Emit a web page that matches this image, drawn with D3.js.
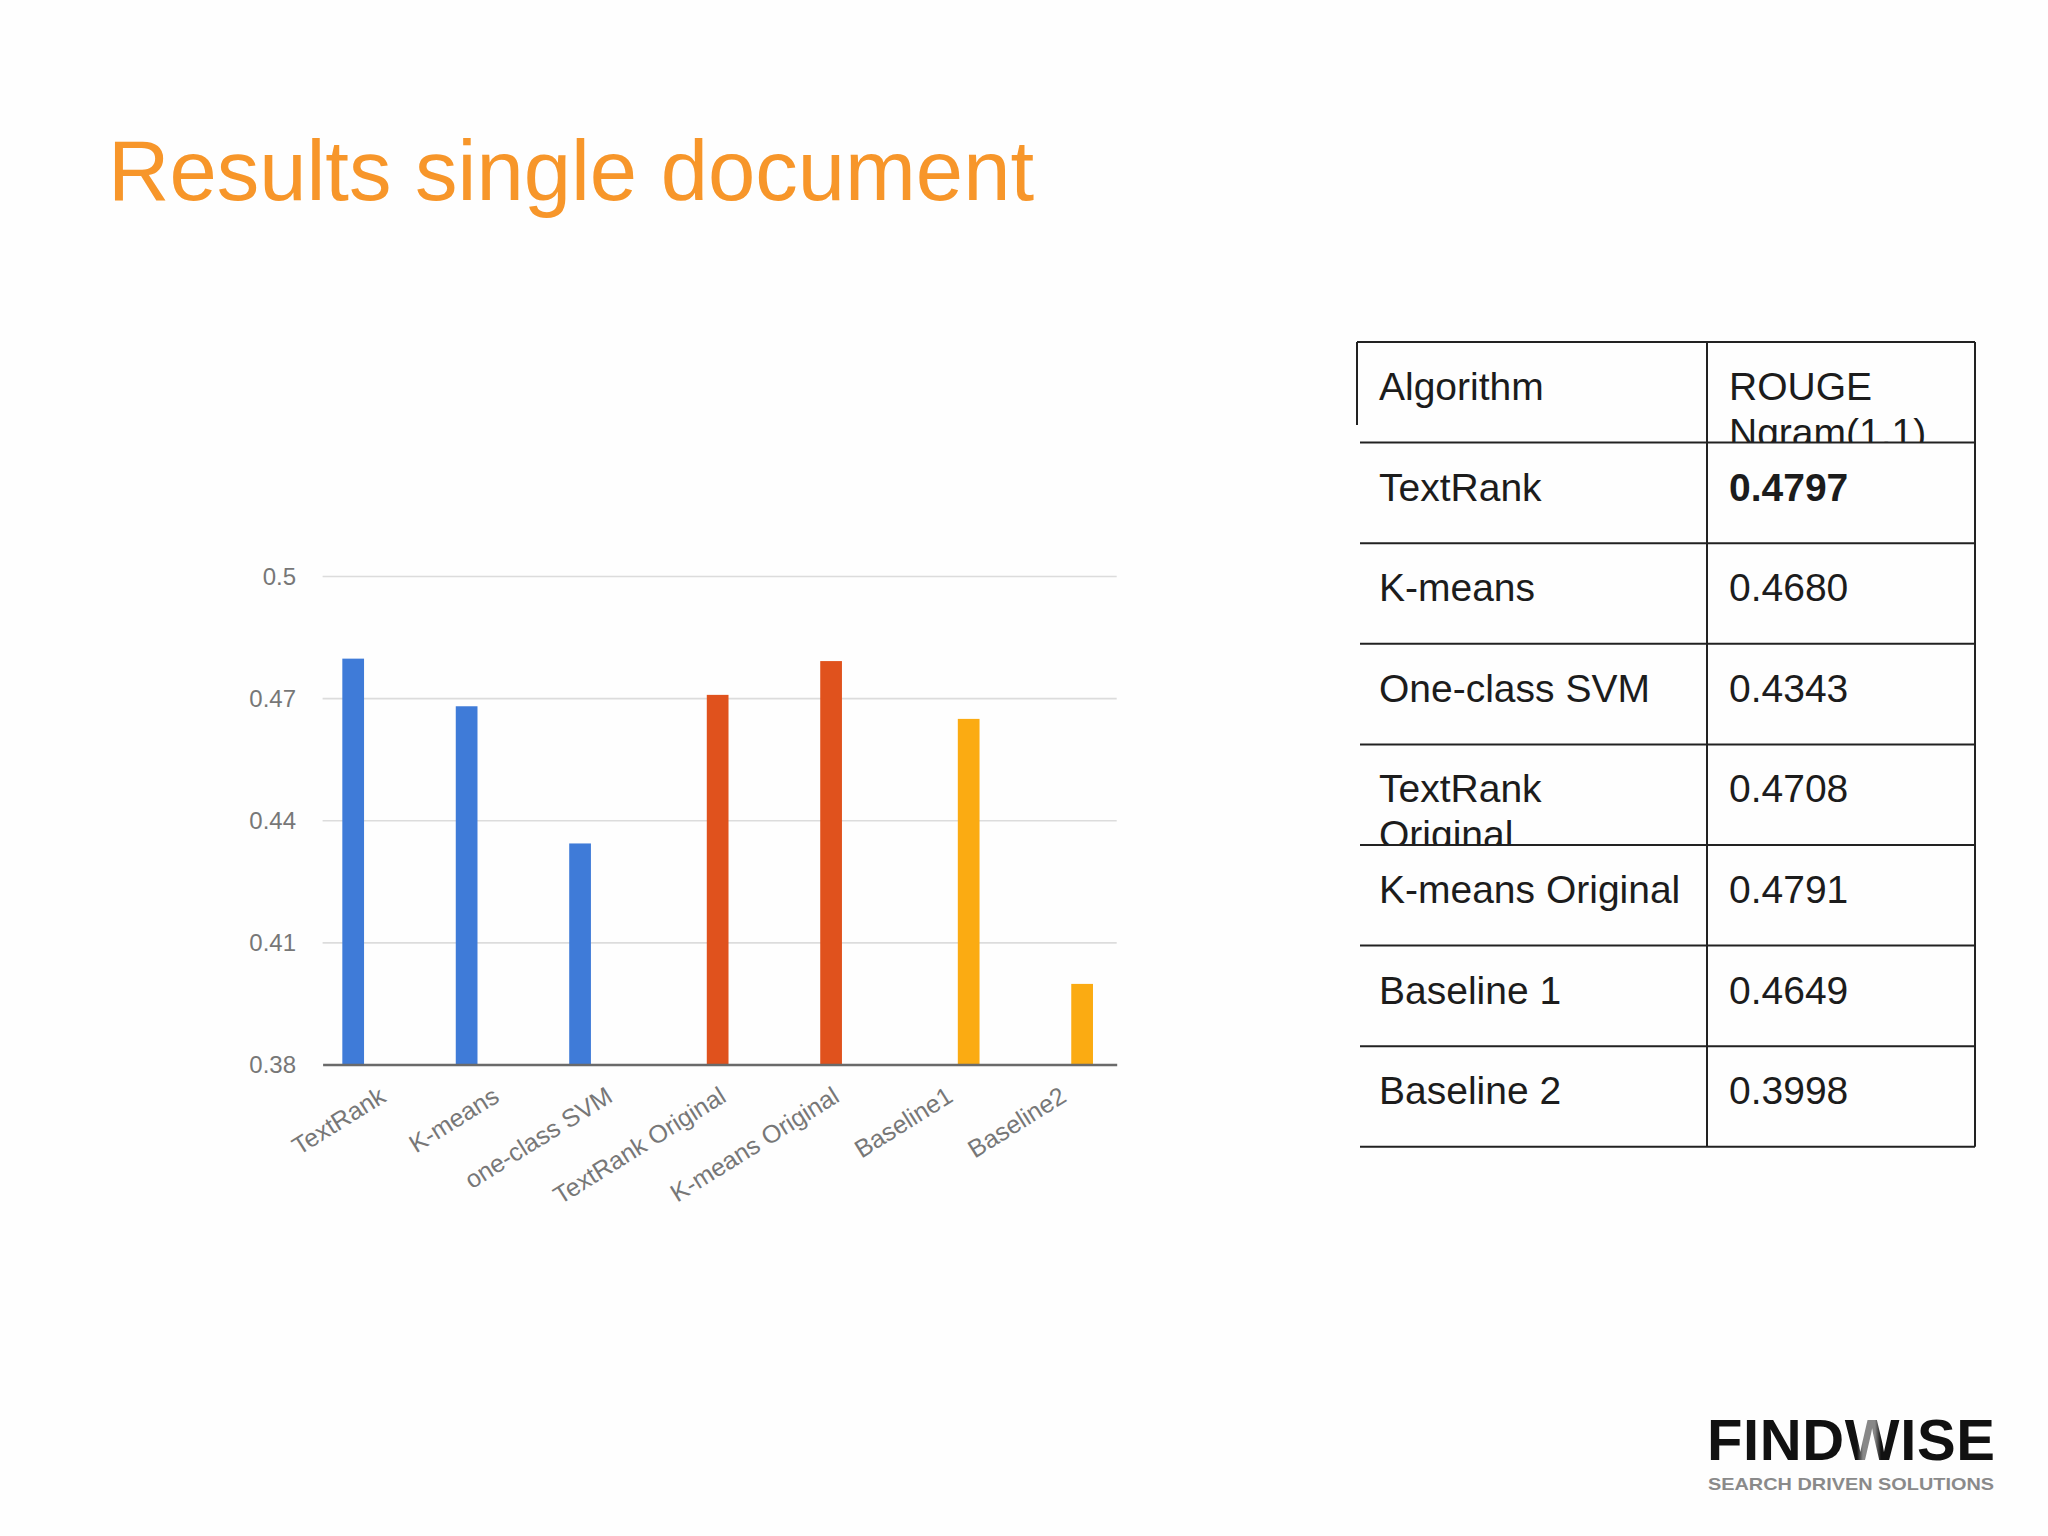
<!DOCTYPE html>
<html>
<head>
<meta charset="utf-8">
<script src="https://cdn.jsdelivr.net/npm/d3@7/dist/d3.min.js"></script>
<style>
  html, body { margin: 0; padding: 0; background: #fefefe; }
  svg { display: block; }
</style>
</head>
<body>
<svg id="chart" width="2048" height="1536"></svg>
<script>
// ---------- DATA ----------
const titleText = "Results single document";
const categories = ["TextRank", "K-means", "one-class SVM", "TextRank Original", "K-means Original", "Baseline1", "Baseline2"];
const seriesNames = ["proposed", "original", "baseline"];
const proposedValues = [0.4797, 0.4680, 0.4343, null, null, null, null];
const originalValues = [null, null, null, 0.4708, 0.4791, null, null];
const baselineValues = [null, null, null, null, null, 0.4649, 0.3998];
const seriesColors = ["#3f7bd8", "#e0521d", "#fbab12"];
const yTicks = [0.38, 0.41, 0.44, 0.47, 0.5];
const yTickLabels = ["0.38", "0.41", "0.44", "0.47", "0.5"];

const tableHeader = ["Algorithm", "ROUGE Ngram(1,1)"];
const tableAlgorithms = ["TextRank", "K-means", "One-class SVM", "TextRank Original", "K-means Original", "Baseline 1", "Baseline 2"];
const tableScores = ["0.4797", "0.4680", "0.4343", "0.4708", "0.4791", "0.4649", "0.3998"];
const tableBold = [true, false, false, false, false, false, false];

const logoText = "FINDWISE";
const logoSub = "SEARCH DRIVEN SOLUTIONS";

// ---------- SETUP ----------
const svg = d3.select("#chart");
const FONT = "'Liberation Sans', Arial, Helvetica, sans-serif";

svg.append("rect").attr("width", 2048).attr("height", 1536).attr("fill", "#fefefe");

// Title
svg.append("text")
  .attr("x", 108).attr("y", 200)
  .attr("font-family", FONT).attr("font-size", 85)
  .attr("fill", "#f7962a")
  .text(titleText);

// ---------- BAR CHART ----------
const plot = { left: 322.6, right: 1116.7, top: 576, bottom: 1064.5 };
const x = d3.scaleBand().domain(categories).range([plot.left, plot.right]).padding(0);
const y = d3.scaleLinear().domain([0.38, 0.5]).range([plot.bottom, plot.top]);
const groupWidth = 70;
const xInner = d3.scaleBand().domain(seriesNames).range([0, groupWidth]).paddingInner(0.1).paddingOuter(0);

const g = svg.append("g");

// gridlines
g.append("g")
  .attr("transform", `translate(${plot.left},0)`)
  .call(d3.axisLeft(y).tickValues(yTicks.slice(1)).tickSize(-(plot.right - plot.left)).tickFormat(""))
  .call(s => s.select(".domain").remove())
  .call(s => s.selectAll("line").attr("stroke", "#dcdcdc").attr("stroke-width", 1.6));

// y labels
g.append("g")
  .attr("transform", `translate(296,0)`)
  .call(d3.axisLeft(y).tickValues(yTicks).tickSize(0).tickPadding(0).tickFormat((d, i) => yTickLabels[i]))
  .call(s => s.select(".domain").remove())
  .call(s => s.selectAll("text")
    .attr("font-family", FONT).attr("font-size", 24).attr("fill", "#777")
    .attr("dy", "0.35em"));

// bars
const seriesData = [proposedValues, originalValues, baselineValues];
seriesData.forEach((vals, si) => {
  g.append("g").selectAll("rect")
    .data(categories.map((c, i) => ({ c, v: vals[i] })).filter(d => d.v !== null))
    .join("rect")
    .attr("x", d => x(d.c) + x.bandwidth() / 2 - 2 - groupWidth / 2 + xInner(seriesNames[si]))
    .attr("width", xInner.bandwidth())
    .attr("y", d => y(d.v))
    .attr("height", d => y(0.38) - y(d.v))
    .attr("fill", seriesColors[si]);
});

// baseline axis
g.append("g")
  .attr("transform", `translate(0,${plot.bottom})`)
  .call(d3.axisBottom(x).tickSize(0).tickFormat(""))
  .call(s => s.select(".domain").attr("stroke", "#6a6a6a").attr("stroke-width", 2.6));

// x labels rotated
g.append("g").selectAll("text")
  .data(categories)
  .join("text")
  .attr("transform", d => `translate(${x(d) + x.bandwidth() / 2 + 8},${plot.bottom + 36}) rotate(-32)`)
  .attr("text-anchor", "end")
  .attr("font-family", FONT).attr("font-size", 25).attr("fill", "#777")
  .text(d => d);

// ---------- TABLE ----------
const tbl = { left: 1357, mid: 1707, right: 1975, top: 342, rowH: 100.6 };
const rows = [tableHeader].concat(tableAlgorithms.map((a, i) => [a, tableScores[i]]));
const rowY = d3.scaleLinear().domain([0, rows.length]).range([tbl.top, tbl.top + rows.length * tbl.rowH]);
const colX = [tbl.left, tbl.mid, tbl.right];
const T = svg.append("g");
const defs = svg.append("defs");

function wrapWords(textSel, str, maxW, lineH) {
  const words = str.split(" ");
  let line = [];
  let tspan = textSel.append("tspan").attr("x", textSel.attr("x")).attr("dy", 0);
  words.forEach(w => {
    line.push(w);
    tspan.text(line.join(" "));
    if (tspan.node().getComputedTextLength() > maxW && line.length > 1) {
      line.pop();
      tspan.text(line.join(" "));
      line = [w];
      tspan = textSel.append("tspan").attr("x", textSel.attr("x")).attr("dy", lineH).text(w);
    }
  });
}

rows.forEach((r, ri) => {
  r.forEach((cell, ci) => {
    const id = `clip-${ri}-${ci}`;
    defs.append("clipPath").attr("id", id).append("rect")
      .attr("x", colX[ci]).attr("y", rowY(ri))
      .attr("width", colX[ci + 1] - colX[ci]).attr("height", tbl.rowH);
    const t = T.append("text")
      .attr("clip-path", `url(#${id})`)
      .attr("x", colX[ci] + 22)
      .attr("y", rowY(ri) + 58)
      .attr("font-family", FONT).attr("font-size", 39)
      .attr("fill", "#1c1c1c")
      .attr("font-weight", (ri > 0 && ci === 1 && tableBold[ri - 1]) ? "bold" : "normal");
    wrapWords(t, cell, colX[ci + 1] - colX[ci] - 44, 46);
  });
});

const lineColor = "#222";
T.append("line").attr("x1", tbl.left).attr("x2", tbl.right).attr("y1", rowY(0)).attr("y2", rowY(0))
  .attr("stroke", lineColor).attr("stroke-width", 2);
T.append("line").attr("x1", tbl.left).attr("x2", tbl.left).attr("y1", rowY(0)).attr("y2", rowY(0) + 83)
  .attr("stroke", lineColor).attr("stroke-width", 2);
T.selectAll(".rowline").data(d3.range(1, rows.length + 1)).join("line")
  .attr("x1", tbl.left + 3).attr("x2", tbl.right)
  .attr("y1", d => rowY(d)).attr("y2", d => rowY(d))
  .attr("stroke", lineColor).attr("stroke-width", 2);
[tbl.mid, tbl.right].forEach(vx => {
  T.append("line").attr("x1", vx).attr("x2", vx).attr("y1", rowY(0)).attr("y2", rowY(rows.length))
    .attr("stroke", lineColor).attr("stroke-width", 2);
});

// ---------- LOGO ----------
const grad = defs.append("linearGradient").attr("id", "wgrad")
  .attr("gradientUnits", "userSpaceOnUse").attr("x1", 1830).attr("x2", 1890).attr("y1", 0).attr("y2", 0);
grad.append("stop").attr("offset", "0").attr("stop-color", "#111");
grad.append("stop").attr("offset", "0.45").attr("stop-color", "#111");
grad.append("stop").attr("offset", "0.55").attr("stop-color", "#888");
grad.append("stop").attr("offset", "0.75").attr("stop-color", "#888");
grad.append("stop").attr("offset", "0.85").attr("stop-color", "#111");
grad.append("stop").attr("offset", "1").attr("stop-color", "#111");

const logo = svg.append("text")
  .attr("x", 1707).attr("y", 1460)
  .attr("font-family", FONT).attr("font-size", 58).attr("font-weight", "bold")
  .attr("fill", "#111")
  .attr("textLength", 288).attr("lengthAdjust", "spacing");
logo.append("tspan").text(logoText.slice(0, 4));
logo.append("tspan").attr("fill", "url(#wgrad)").text(logoText.slice(4, 5));
logo.append("tspan").text(logoText.slice(5));

svg.append("text")
  .attr("x", 1708).attr("y", 1490)
  .attr("font-family", FONT).attr("font-size", 17).attr("font-weight", "bold")
  .attr("fill", "#8a8a8a")
  .attr("textLength", 286).attr("lengthAdjust", "spacingAndGlyphs")
  .text(logoSub);
</script>
</body>
</html>
